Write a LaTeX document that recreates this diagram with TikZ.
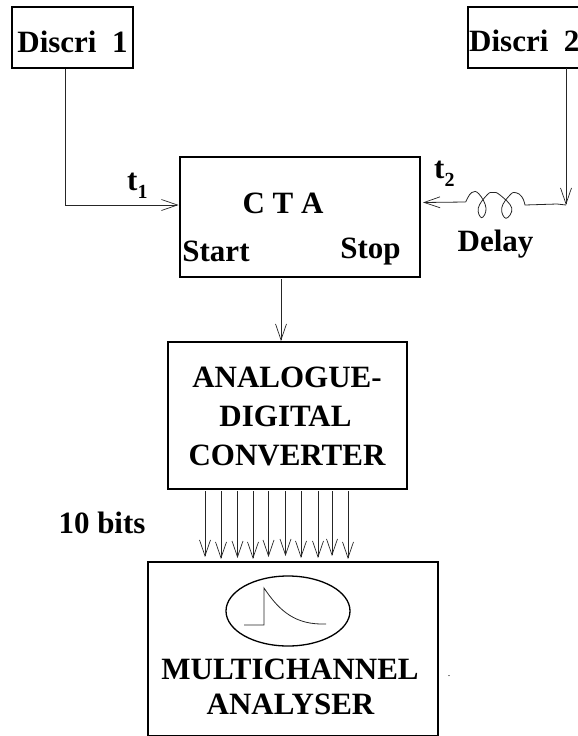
\documentclass[tikz,border=0pt]{standalone}
\usepackage{fontspec}
\setmainfont{Liberation Serif}
\usetikzlibrary{arrows.meta}
\tikzset{
  x=1pt,y=-1pt,
  box/.style={draw=black,line width=2pt,inner sep=0pt,anchor=north west},
  lbl/.style={font=\fontsize{31}{31}\selectfont\bfseries,inner sep=0pt,align=center,anchor=base},
  wire/.style={draw=black!85,line width=0.8pt},
  arr/.style={wire,-{Straight Barb[length=16pt,width=11pt,line width=0.7pt]}},
}
\newcommand{\subt}[1]{t\raisebox{-0.28em}{\fontsize{20}{20}\selectfont #1}}
\begin{document}
\begin{tikzpicture}
\useasboundingbox (0,0) rectangle (578,736);
\node[box,minimum width=121pt,minimum height=61pt] (d1) at (10.5,5.5) {};
\node[lbl] (d1t) at (72.5,52) {Discri\ \ 1};
\node[box,minimum width=125pt,minimum height=61pt] (d2) at (466.5,5.5) {};
\node[lbl,anchor=base west] (d2t) at (469,51) {Discri\ \ 2};
\node[box,minimum width=240pt,minimum height=120pt] (cta) at (178.5,155.5) {};
\node[lbl] (ctat) at (283,213) {C T A};
\node[lbl] (start) at (216,261) {Start};
\node[lbl] (stop) at (370.5,258) {Stop};
\node[box,minimum width=239pt,minimum height=147pt] (adc) at (166.5,341) {};
\node[lbl] (a1) at (287,387) {ANALOGUE-};
\node[lbl] (a2) at (285.5,426) {DIGITAL};
\node[lbl] (a3) at (287,465) {CONVERTER};
\node[box,minimum width=290pt,minimum height=173.5pt] (mca) at (146.5,561) {};
\node[lbl] (m1) at (290,679) {MULTICHANNEL};
\node[lbl] (m2) at (290.5,714) {ANALYSER};
\node[lbl,anchor=base west] (t1) at (127,190) {\subt{1}};
\node[lbl,anchor=base west] (t2) at (434,178) {\subt{2}};
\node[lbl] (delay) at (495.5,251) {Delay};
\node[lbl] (bits) at (102,533) {10 bits};
\node[inner sep=0pt,font=\fontsize{10}{10}\selectfont] (dot) at (449,676) {.};
\draw[line width=1.3pt] (288,611) ellipse [x radius=62,y radius=35];
\draw[wire] (244,625) -- (264,625) -- (264,588) .. controls (280,612) and (296,625) .. (326,624);
% connectors
\coordinate (c1) at (65,69);
\coordinate (c1b) at (65,205);
\draw[arr] (c1) -- (c1b) -- (cta.west |- c1b);
\coordinate (c2) at (566,68);
\coordinate (c2b) at (566,205);
\draw[arr] (c2) -- (c2b);
\coordinate (c3) at (423,202.5);
\draw[arr] (465.7,202) -- (c3);
\draw[wire] plot[smooth,tension=0.75] coordinates {(465.7,202) (471.7,192.5) (479,194) (486,208) (481.7,217.7) (478.3,208) (487,195) (493,192.5) (500,195) (511.7,208) (506,218.3) (501.7,208) (510,195) (516,192.7) (522,197) (525,205)}
  -- (557,204) -- (c2b);
\coordinate (c4) at (281,279);
\draw[arr] (c4) -- (c4 |- adc.north);
\foreach \x/\y [count=\i] in {205/557,221/559,237.5/558,253/559,268.5/557,285.5/556,301/558,318/558,332/556,348/559}{
  \coordinate (p\i) at (\x,491);
  \coordinate (q\i) at (\x,\y);
  \draw[arr] (p\i) -- (q\i);
}
\end{tikzpicture}
\end{document}
